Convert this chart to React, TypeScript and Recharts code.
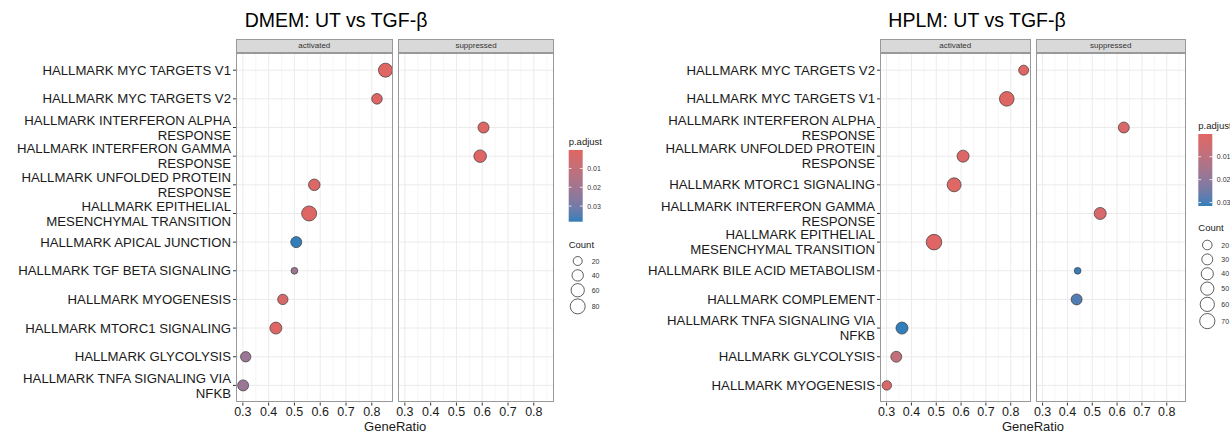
import React from 'react';
import {
  ScatterChart,
  Scatter,
  XAxis,
  YAxis,
  ZAxis,
  ReferenceLine,
  Cell,
} from 'recharts';

// DMEM data (top to bottom)
const dmemTerms = [
  'HALLMARK MYC TARGETS V1',
  'HALLMARK MYC TARGETS V2',
  'HALLMARK INTERFERON ALPHA RESPONSE',
  'HALLMARK INTERFERON GAMMA RESPONSE',
  'HALLMARK UNFOLDED PROTEIN RESPONSE',
  'HALLMARK EPITHELIAL MESENCHYMAL TRANSITION',
  'HALLMARK APICAL JUNCTION',
  'HALLMARK TGF BETA SIGNALING',
  'HALLMARK MYOGENESIS',
  'HALLMARK MTORC1 SIGNALING',
  'HALLMARK GLYCOLYSIS',
  'HALLMARK TNFA SIGNALING VIA NFKB',
];
const dmemSign = ['activated', 'activated', 'suppressed', 'suppressed', 'activated', 'activated', 'activated', 'activated', 'activated', 'activated', 'activated', 'activated'];
const dmemRatio = [0.853, 0.82, 0.605, 0.592, 0.577, 0.557, 0.507, 0.5, 0.455, 0.428, 0.311, 0.301];
const dmemCount = [68, 33, 37, 52, 42, 80, 37, 5, 31, 46, 31, 37];
const dmemPadj = [0.0002, 0.001, 0.001, 0.001, 0.002, 0.001, 0.0383, 0.021, 0.003, 0.001, 0.022, 0.022];
const dmemCountBreaks = [20, 40, 60, 80];

// HPLM data (top to bottom)
const hplmTerms = [
  'HALLMARK MYC TARGETS V2',
  'HALLMARK MYC TARGETS V1',
  'HALLMARK INTERFERON ALPHA RESPONSE',
  'HALLMARK UNFOLDED PROTEIN RESPONSE',
  'HALLMARK MTORC1 SIGNALING',
  'HALLMARK INTERFERON GAMMA RESPONSE',
  'HALLMARK EPITHELIAL MESENCHYMAL TRANSITION',
  'HALLMARK BILE ACID METABOLISM',
  'HALLMARK COMPLEMENT',
  'HALLMARK TNFA SIGNALING VIA NFKB',
  'HALLMARK GLYCOLYSIS',
  'HALLMARK MYOGENESIS',
];
const hplmSign = ['activated', 'activated', 'suppressed', 'activated', 'activated', 'suppressed', 'activated', 'suppressed', 'suppressed', 'activated', 'activated', 'activated'];
const hplmRatio = [0.852, 0.784, 0.627, 0.608, 0.572, 0.532, 0.491, 0.441, 0.437, 0.362, 0.339, 0.301];
const hplmCount = [23, 64, 30, 39, 57, 39, 74, 3, 30, 39, 30, 19];
const hplmPadj = [0.0003, 0.0001, 0.002, 0.001, 0.0005, 0.003, 0.0004, 0.031, 0.029, 0.0315, 0.008, 0.002];
const hplmCountBreaks = [20, 30, 40, 50, 60, 70];

const xTicks = [0.3, 0.4, 0.5, 0.6, 0.7, 0.8];
const xMinor = [0.35, 0.45, 0.55, 0.65, 0.75, 0.85];
const padjTicks = [0.01, 0.02, 0.03];
const facets = ['activated', 'suppressed'];

const FONT = '"Liberation Sans", Arial, sans-serif';
const LOW = '#e06663';
const HIGH = '#327eba';

// colour interpolation in Lab space, like ggplot's gradient
const hexToRgb = (h: string) => [1, 3, 5].map((i) => parseInt(h.slice(i, i + 2), 16));
const toLin = (c: number) => {
  c /= 255;
  return c <= 0.04045 ? c / 12.92 : Math.pow((c + 0.055) / 1.055, 2.4);
};
const fromLin = (c: number) => {
  const v = c <= 0.0031308 ? 12.92 * c : 1.055 * Math.pow(c, 1 / 2.4) - 0.055;
  return Math.round(Math.min(1, Math.max(0, v)) * 255);
};
const WP = [0.95047, 1, 1.08883];
const rgbToLab = (rgb: number[]) => {
  const [r, g, b] = rgb.map(toLin);
  const xyz = [
    0.4124 * r + 0.3576 * g + 0.1805 * b,
    0.2126 * r + 0.7152 * g + 0.0722 * b,
    0.0193 * r + 0.1192 * g + 0.9505 * b,
  ];
  const f = xyz.map((v, i) => {
    const t = v / WP[i];
    return t > 0.008856 ? Math.cbrt(t) : 7.787 * t + 16 / 116;
  });
  return [116 * f[1] - 16, 500 * (f[0] - f[1]), 200 * (f[1] - f[2])];
};
const labToRgb = (lab: number[]) => {
  const fy = (lab[0] + 16) / 116;
  const fx = fy + lab[1] / 500;
  const fz = fy - lab[2] / 200;
  const [x, y, z] = [fx, fy, fz].map((f, i) => {
    const t = f * f * f > 0.008856 ? f * f * f : (f - 16 / 116) / 7.787;
    return t * WP[i];
  });
  const r = 3.2406 * x - 1.5372 * y - 0.4986 * z;
  const g = -0.9689 * x + 1.8758 * y + 0.0415 * z;
  const b = 0.0557 * x - 0.204 * y + 1.057 * z;
  return [fromLin(r), fromLin(g), fromLin(b)];
};
const LOW_LAB = rgbToLab(hexToRgb(LOW));
const HIGH_LAB = rgbToLab(hexToRgb(HIGH));

const padjColor = (p: number, dom: number[]) => {
  const t = Math.min(1, Math.max(0, (p - dom[0]) / (dom[1] - dom[0])));
  const lab = LOW_LAB.map((v, i) => v + (HIGH_LAB[i] - v) * t);
  const c = labToRgb(lab);
  return `rgb(${c[0]},${c[1]},${c[2]})`;
};

// wrap labels at 30 chars, like enrichplot
const wrap = (s: string, n = 30) => {
  const words = s.split(' ');
  const lines: string[] = [];
  let cur = '';
  words.forEach((w) => {
    if (cur && (cur + ' ' + w).length > n) {
      lines.push(cur);
      cur = w;
    } else {
      cur = cur ? cur + ' ' + w : w;
    }
  });
  if (cur) lines.push(cur);
  return lines;
};

const YTick = (props: any) => {
  const { x, y, payload, terms } = props;
  const lines = wrap(terms[payload.value]);
  const fs = 13.2;
  const lh = 15;
  return (
    <text x={x} y={y} textAnchor="end" fontSize={fs} fill="#1a1a1a" fontFamily={FONT}>
      {lines.map((l: string, i: number) => (
        <tspan key={i} x={x} dy={i === 0 ? -((lines.length - 1) * lh) / 2 + fs * 0.35 : lh}>
          {l}
        </tspan>
      ))}
    </text>
  );
};

interface PanelProps {
  title: string;
  terms: string[];
  sign: string[];
  ratio: number[];
  count: number[];
  padj: number[];
  countBreaks: number[];
  layout: any;
}

const Panel = ({ title, terms, sign, ratio, count, padj, countBreaks, layout }: PanelProps) => {
  const L = layout;
  const n = terms.length;
  const rows = terms.map((t, i) => ({
    term: t,
    y: i,
    x: ratio[i],
    count: count[i],
    padj: padj[i],
    sign: sign[i],
  }));
  const lo = Math.min(...ratio);
  const hi = Math.max(...ratio);
  const xDomain = [lo - (hi - lo) * 0.05, hi + (hi - lo) * 0.05];
  const padjDom = [Math.min(...padj), Math.max(...padj)];
  const zRange = [Math.PI * L.r0sq, Math.PI * (L.r0sq + 100 * L.k)];
  const radius = (c: number) => Math.sqrt(L.r0sq + L.k * c);
  const yAxisW = L.plotLeft - L.left;
  const padLeft = 15;

  // count legend key centres
  const keyY: number[] = [];
  let cy = L.firstKeyY;
  countBreaks.forEach((b, i) => {
    if (i > 0) {
      const hPrev = Math.max(14.4, 2 * radius(countBreaks[i - 1]) + 2);
      const hCur = Math.max(14.4, 2 * radius(b) + 2);
      cy += (hPrev + hCur) / 2;
    }
    keyY.push(cy);
  });

  const barY = (p: number) => L.barTop + ((p - padjDom[0]) / (padjDom[1] - padjDom[0])) * L.barH;
  const panelW = L.facetW * 2 + L.gap;
  const stops = Array.from({ length: 11 }, (_, i) => i / 10);

  return (
    <>
      <div
        style={{
          position: 'absolute',
          left: L.titleX - 200,
          width: 400,
          top: 8,
          textAlign: 'center',
          fontSize: 19.5,
          fontFamily: FONT,
          color: '#000',
          lineHeight: '24px',
        }}
      >
        {title}
      </div>
      {facets.map((f, fi) => {
        const withY = fi === 0;
        const facetLeft = L.plotLeft + fi * (L.facetW + L.gap);
        const data = rows.filter((r) => r.sign === f);
        return (
          <React.Fragment key={f}>
            <div
              style={{
                position: 'absolute',
                left: facetLeft,
                top: L.stripTop,
                width: L.facetW,
                height: L.plotTop - L.stripTop,
                boxSizing: 'border-box',
                background: '#d9d9d9',
                border: '1px solid #999',
                fontSize: 8,
                fontFamily: FONT,
                color: '#333',
                textAlign: 'center',
                lineHeight: `${L.plotTop - L.stripTop - 2}px`,
              }}
            >
              {f}
            </div>
            <div style={{ position: 'absolute', left: withY ? L.left : facetLeft - padLeft, top: L.plotTop }}>
              <ScatterChart
                width={(withY ? yAxisW : padLeft) + L.facetW}
                height={L.plotH + 30}
                margin={{ top: 0, right: 0, bottom: 0, left: withY ? 0 : padLeft }}
              >
                <XAxis
                  type="number"
                  dataKey="x"
                  domain={xDomain}
                  allowDataOverflow
                  ticks={xTicks}
                  interval={0}
                  tickFormatter={(v: number) => v.toFixed(1)}
                  height={30}
                  axisLine={false}
                  tickSize={3}
                  tickMargin={2}
                  tickLine={{ stroke: '#333' }}
                  tick={{ fontSize: 12.5, fill: '#1a1a1a', fontFamily: FONT }}
                />
                <YAxis
                  type="number"
                  dataKey="y"
                  domain={[-0.6, n - 1 + 0.6]}
                  allowDataOverflow
                  reversed
                  ticks={terms.map((_, i) => i)}
                  interval={0}
                  hide={!withY}
                  width={yAxisW}
                  axisLine={false}
                  tickSize={3}
                  tickMargin={2}
                  tickLine={{ stroke: '#333' }}
                  tick={<YTick terms={terms} />}
                />
                <ZAxis type="number" dataKey="count" domain={[0, 100]} range={zRange} />
                {xMinor.map((v) => (
                  <ReferenceLine key={`mn${v}`} x={v} stroke="#f2f2f2" strokeWidth={0.7} />
                ))}
                {xTicks.map((v) => (
                  <ReferenceLine key={`mj${v}`} x={v} stroke="#ebebeb" strokeWidth={1} />
                ))}
                {terms.map((_, i) => (
                  <ReferenceLine key={`h${i}`} y={i} stroke="#ebebeb" strokeWidth={1} />
                ))}
                <Scatter data={data} shape="circle" isAnimationActive={false} stroke="#3a3a3a" strokeWidth={0.7}>
                  {data.map((d, i) => (
                    <Cell key={`c${i}`} fill={padjColor(d.padj, padjDom)} />
                  ))}
                </Scatter>
              </ScatterChart>
            </div>
            <div
              style={{
                position: 'absolute',
                left: facetLeft,
                top: L.plotTop,
                width: L.facetW,
                height: L.plotH,
                boxSizing: 'border-box',
                border: '1px solid #999',
                pointerEvents: 'none',
              }}
            />
          </React.Fragment>
        );
      })}
      <div
        style={{
          position: 'absolute',
          left: L.plotLeft,
          width: panelW,
          top: 418,
          textAlign: 'center',
          fontSize: 13,
          fontFamily: FONT,
          color: '#1a1a1a',
          lineHeight: '17px',
        }}
      >
        GeneRatio
      </div>
      {/* legends */}
      <svg
        style={{ position: 'absolute', left: 0, top: 0, overflow: 'visible' }}
        width={1}
        height={1}
      >
        <defs>
          <linearGradient id={`grad-${L.id}`} x1="0" y1="0" x2="0" y2="1">
            {stops.map((s) => (
              <stop
                key={s}
                offset={`${s * 100}%`}
                stopColor={padjColor(padjDom[0] + s * (padjDom[1] - padjDom[0]), padjDom)}
              />
            ))}
          </linearGradient>
        </defs>
        <text x={L.legendX} y={L.pTitleY + 3.3} fontSize={9.5} fontFamily={FONT} fill="#1a1a1a">
          p.adjust
        </text>
        <rect x={L.legendX} y={L.barTop} width={14} height={L.barH} fill={`url(#grad-${L.id})`} />
        {padjTicks.map((t) => (
          <g key={t}>
            <line x1={L.legendX} x2={L.legendX + 2.8} y1={barY(t)} y2={barY(t)} stroke="#fff" strokeWidth={0.8} />
            <line x1={L.legendX + 11.2} x2={L.legendX + 14} y1={barY(t)} y2={barY(t)} stroke="#fff" strokeWidth={0.8} />
            <text x={L.legendX + 18.5} y={barY(t) + 2.5} fontSize={7} fontFamily={FONT} fill="#333">
              {t.toFixed(2)}
            </text>
          </g>
        ))}
        <text x={L.legendX} y={L.countTitleY + 3.3} fontSize={9.5} fontFamily={FONT} fill="#1a1a1a">
          Count
        </text>
        {countBreaks.map((b, i) => (
          <g key={b}>
            <circle cx={L.legendX + 9} cy={keyY[i]} r={radius(b)} fill="none" stroke="#1a1a1a" strokeWidth={0.7} />
            <text x={L.legendX + 23} y={keyY[i] + 2.5} fontSize={7} fontFamily={FONT} fill="#333">
              {b}
            </text>
          </g>
        ))}
      </svg>
    </>
  );
};

const dmemLayout = {
  id: 'dmem',
  left: 0,
  plotLeft: 236,
  facetW: 156.6,
  gap: 5.2,
  plotTop: 52.7,
  plotH: 349.6,
  stripTop: 39,
  titleX: 336,
  legendX: 568.7,
  pTitleY: 141.7,
  barTop: 150,
  barH: 71.7,
  countTitleY: 245,
  firstKeyY: 261,
  r0sq: 8.25,
  k: 0.6,
};

const hplmLayout = {
  id: 'hplm',
  left: 620,
  plotLeft: 880,
  facetW: 150.5,
  gap: 5,
  plotTop: 52.7,
  plotH: 349.6,
  stripTop: 39,
  titleX: 977,
  legendX: 1198.3,
  pTitleY: 126,
  barTop: 134,
  barH: 72,
  countTitleY: 228,
  firstKeyY: 245,
  r0sq: 9.16,
  k: 0.694,
};

const App = () => {
  return (
    <div
      style={{
        position: 'absolute',
        left: 0,
        top: 0,
        width: 1230,
        height: 439,
        background: '#fff',
        overflow: 'hidden',
      }}
    >
      <Panel
        title="DMEM: UT vs TGF-β"
        terms={dmemTerms}
        sign={dmemSign}
        ratio={dmemRatio}
        count={dmemCount}
        padj={dmemPadj}
        countBreaks={dmemCountBreaks}
        layout={dmemLayout}
      />
      <Panel
        title="HPLM: UT vs TGF-β"
        terms={hplmTerms}
        sign={hplmSign}
        ratio={hplmRatio}
        count={hplmCount}
        padj={hplmPadj}
        countBreaks={hplmCountBreaks}
        layout={hplmLayout}
      />
    </div>
  );
};

export default App;
